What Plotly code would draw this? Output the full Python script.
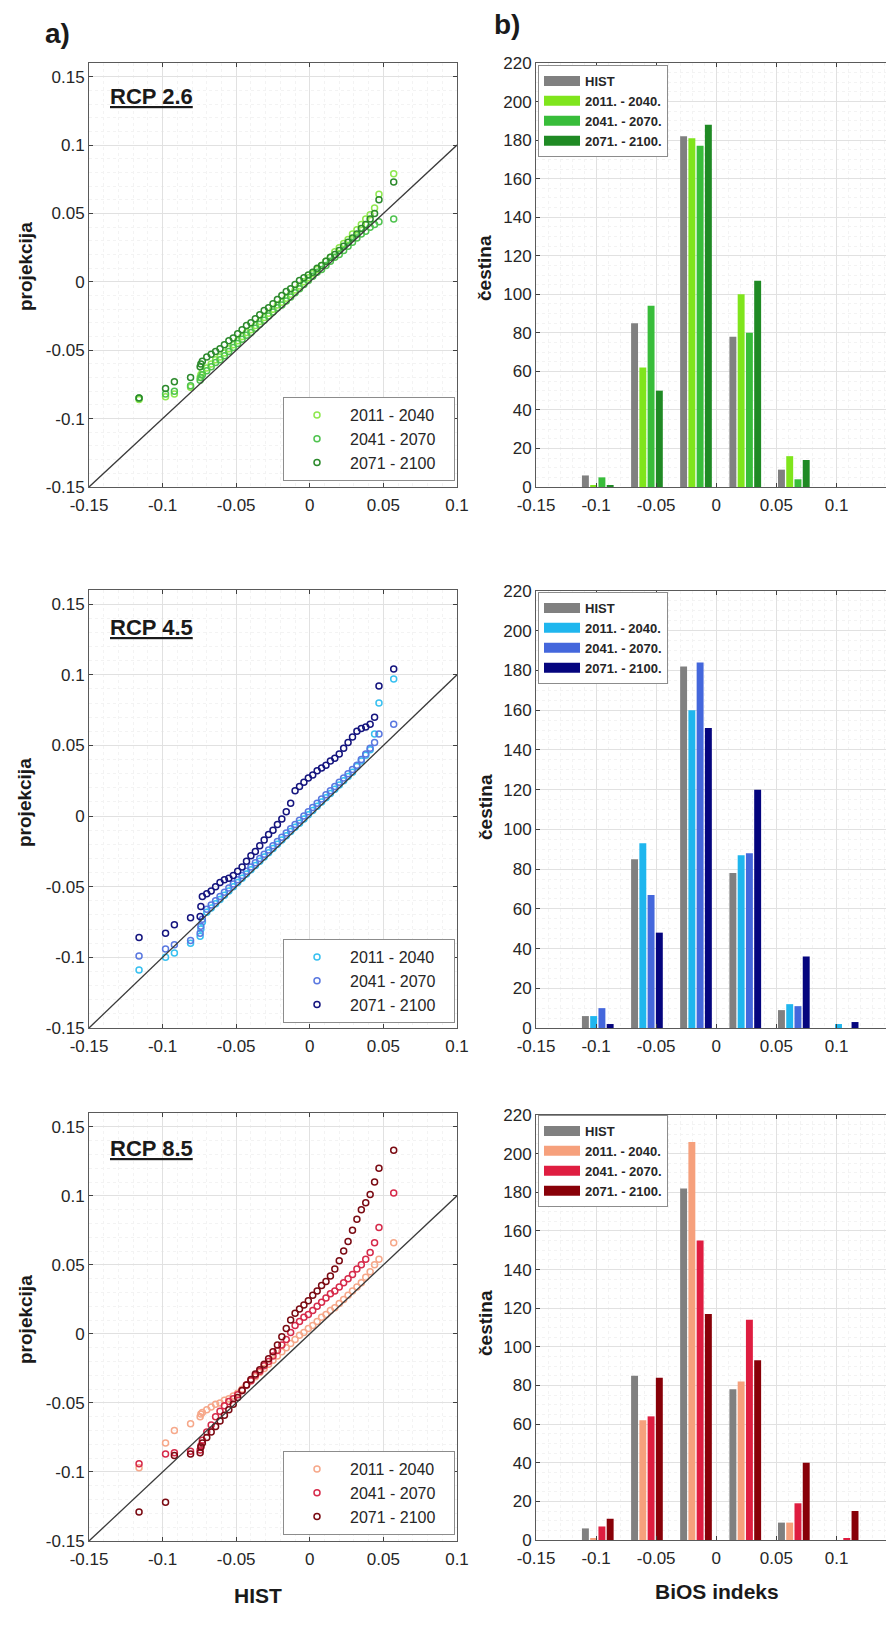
import plotly.graph_objects as go

# ---- QQ plot data: HIST quantiles (x) vs projected quantiles (y) ----
HIST_Q = [-0.116, -0.098, -0.092, -0.081, -0.0745, -0.074, -0.073, -0.070, -0.067, -0.064,
          -0.061, -0.058, -0.055, -0.052, -0.049, -0.046, -0.043, -0.040, -0.037, -0.034,
          -0.031, -0.028, -0.025, -0.022, -0.019, -0.016, -0.013, -0.010, -0.007, -0.004,
          -0.001, 0.002, 0.005, 0.008, 0.011, 0.014, 0.017, 0.020, 0.023, 0.026,
          0.029, 0.032, 0.035, 0.038, 0.041, 0.044, 0.047, 0.057]

RCP26_2011 = [-0.086, -0.084, -0.082, -0.077, -0.070, -0.068, -0.066, -0.063, -0.060, -0.057,
              -0.055, -0.052, -0.049, -0.046, -0.043, -0.040, -0.037, -0.035, -0.032, -0.029,
              -0.026, -0.023, -0.020, -0.017, -0.015, -0.012, -0.009, -0.006, -0.003, 0.000,
              0.003, 0.006, 0.009, 0.012, 0.015, 0.018, 0.022, 0.025, 0.028, 0.031,
              0.035, 0.038, 0.042, 0.046, 0.049, 0.054, 0.064, 0.079]
RCP26_2041 = [-0.085, -0.082, -0.080, -0.076, -0.072, -0.070, -0.068, -0.065, -0.062, -0.059,
              -0.057, -0.054, -0.051, -0.048, -0.045, -0.042, -0.039, -0.037, -0.034, -0.031,
              -0.028, -0.025, -0.022, -0.019, -0.017, -0.014, -0.011, -0.008, -0.005, -0.002,
              0.001, 0.004, 0.007, 0.009, 0.012, 0.015, 0.018, 0.020, 0.023, 0.026,
              0.029, 0.032, 0.035, 0.037, 0.040, 0.042, 0.044, 0.046]
RCP26_2071 = [-0.085, -0.078, -0.073, -0.070, -0.062, -0.060, -0.058, -0.055, -0.053, -0.051,
              -0.049, -0.046, -0.043, -0.041, -0.038, -0.035, -0.032, -0.030, -0.027, -0.024,
              -0.021, -0.019, -0.016, -0.013, -0.010, -0.007, -0.005, -0.002, 0.001, 0.003,
              0.005, 0.007, 0.010, 0.012, 0.015, 0.018, 0.020, 0.023, 0.026, 0.029,
              0.032, 0.035, 0.039, 0.042, 0.046, 0.050, 0.060, 0.073]

RCP45_2011 = [-0.109, -0.100, -0.097, -0.090, -0.085, -0.080, -0.075, -0.068, -0.065, -0.062,
              -0.059, -0.056, -0.053, -0.050, -0.047, -0.044, -0.041, -0.038, -0.035, -0.032,
              -0.029, -0.026, -0.023, -0.020, -0.017, -0.014, -0.011, -0.008, -0.005, -0.002,
              0.001, 0.004, 0.007, 0.010, 0.013, 0.016, 0.019, 0.022, 0.025, 0.028,
              0.031, 0.035, 0.039, 0.043, 0.047, 0.058, 0.080, 0.097]
RCP45_2041 = [-0.099, -0.094, -0.091, -0.088, -0.083, -0.078, -0.073, -0.066, -0.063, -0.060,
              -0.057, -0.054, -0.051, -0.048, -0.045, -0.042, -0.039, -0.036, -0.033, -0.030,
              -0.027, -0.024, -0.021, -0.018, -0.015, -0.012, -0.009, -0.006, -0.003, 0.000,
              0.003, 0.006, 0.009, 0.012, 0.015, 0.018, 0.021, 0.024, 0.027, 0.030,
              0.033, 0.036, 0.040, 0.044, 0.048, 0.052, 0.058, 0.065]
RCP45_2071 = [-0.086, -0.083, -0.077, -0.072, -0.071, -0.064, -0.057, -0.055, -0.053, -0.050,
              -0.047, -0.045, -0.044, -0.042, -0.039, -0.036, -0.032, -0.028, -0.025, -0.021,
              -0.017, -0.013, -0.010, -0.006, -0.002, 0.003, 0.009, 0.018, 0.021, 0.024,
              0.027, 0.029, 0.032, 0.034, 0.036, 0.039, 0.041, 0.044, 0.048, 0.052,
              0.056, 0.060, 0.062, 0.063, 0.065, 0.070, 0.092, 0.104]

RCP85_2011 = [-0.097, -0.079, -0.070, -0.065, -0.060, -0.058, -0.057, -0.055, -0.053, -0.051,
              -0.050, -0.048, -0.047, -0.045, -0.043, -0.040, -0.037, -0.034, -0.031, -0.028,
              -0.025, -0.022, -0.019, -0.016, -0.013, -0.010, -0.007, -0.004, -0.001, 0.001,
              0.004, 0.006, 0.009, 0.012, 0.014, 0.017, 0.019, 0.022, 0.025, 0.028,
              0.031, 0.034, 0.037, 0.041, 0.045, 0.050, 0.054, 0.066]
RCP85_2041 = [-0.094, -0.087, -0.086, -0.085, -0.084, -0.081, -0.077, -0.071, -0.066, -0.060,
              -0.056, -0.052, -0.049, -0.047, -0.044, -0.041, -0.037, -0.034, -0.030, -0.027,
              -0.023, -0.020, -0.016, -0.012, -0.008, -0.004, 0.001, 0.006, 0.009, 0.012,
              0.014, 0.017, 0.020, 0.023, 0.026, 0.029, 0.031, 0.034, 0.037, 0.040,
              0.043, 0.047, 0.050, 0.054, 0.059, 0.066, 0.077, 0.102]
RCP85_2071 = [-0.129, -0.122, -0.088, -0.087, -0.086, -0.082, -0.079, -0.075, -0.071, -0.067,
              -0.063, -0.059, -0.055, -0.051, -0.046, -0.041, -0.037, -0.033, -0.029, -0.026,
              -0.022, -0.018, -0.013, -0.008, -0.002, 0.004, 0.010, 0.015, 0.018, 0.021,
              0.024, 0.028, 0.031, 0.035, 0.038, 0.042, 0.047, 0.053, 0.060, 0.067,
              0.075, 0.083, 0.090, 0.095, 0.101, 0.110, 0.120, 0.133]

REF_LINE = [-0.15, 0.1]

# ---- histogram data (BiOS index bins) ----
BIN_CENTERS = [-0.0986, -0.0577, -0.0169, 0.0241, 0.0645, 0.1051]
HIST_COUNTS = [6, 85, 182, 78, 9, 0]
RCP26_COUNTS = [[1, 62, 181, 100, 16, 0],
                [5, 94, 177, 80, 4, 0],
                [1, 50, 188, 107, 14, 0]]
RCP45_COUNTS = [[6, 93, 160, 87, 12, 2],
                [10, 67, 184, 88, 11, 0],
                [2, 48, 151, 120, 36, 3]]
RCP85_COUNTS = [[1, 62, 206, 82, 9, 0],
                [7, 64, 155, 114, 19, 1],
                [11, 84, 117, 93, 40, 15]]

QQ_NAMES = ["2011 - 2040", "2041 - 2070", "2071 - 2100"]
BAR_NAMES = ["HIST", "2011. - 2040.", "2041. - 2070.", "2071. - 2100."]
SCENARIOS = ["RCP 2.6", "RCP 4.5", "RCP 8.5"]

QQ_X_TICKS = [-0.15, -0.1, -0.05, 0, 0.05, 0.1]
QQ_Y_TICKS = [-0.15, -0.1, -0.05, 0, 0.05, 0.1, 0.15]
QQ_X_LABELS = ["-0.15", "-0.1", "-0.05", "0", "0.05", "0.1"]
QQ_Y_LABELS = ["-0.15", "-0.1", "-0.05", "0", "0.05", "0.1", "0.15"]
BAR_Y_TICKS = [0, 20, 40, 60, 80, 100, 120, 140, 160, 180, 200, 220]

QQ_DATA = [[RCP26_2011, RCP26_2041, RCP26_2071],
           [RCP45_2011, RCP45_2041, RCP45_2071],
           [RCP85_2011, RCP85_2041, RCP85_2071]]
BAR_DATA = [RCP26_COUNTS, RCP45_COUNTS, RCP85_COUNTS]

HIST_COLOR = "#808080"
BAR_COLORS = [["#7fe51c", "#38bd3a", "#1f8a24"],
              ["#1fb6ee", "#4467dc", "#05057e"],
              ["#f6a07c", "#df1d40", "#880008"]]
QQ_COLORS = [["#8ee84e", "#4fc34f", "#2c8a2c"],
             ["#38c0f0", "#5a78e0", "#14147e"],
             ["#f6a88a", "#d62a4a", "#7a0a12"]]

FONT = "Liberation Sans, Arial, sans-serif"
TXT = "#262626"

# the page body adds an 8 px margin: the figure is kept a bit smaller so the
# page does not scroll, and screen positions measured on the reference are shifted
OFF = 8
W, H = 885, 1600


def px(X):
    return (X - OFF) / W


def py(Y):
    return 1 - (Y - OFF) / H


LEFT_DOM = [px(89), px(457)]
RIGHT_DOM = [px(536), 1.0]
ROWS_LEFT = [[py(487), py(63)], [py(1028), py(590)], [py(1541), py(1113)]]
ROWS_RIGHT = [[py(487), py(63)], [py(1028), py(591)], [py(1540), py(1115)]]
QQ_LEG_BOTTOM = [481, 1023, 1535]
BAR_LEG_TOP = [65, 592, 1115]
RCP_LABEL_Y = [96, 627, 1148]
YLABEL_Y = [267, 803, 1320]
CEST_Y = [268, 807, 1323]

fig = go.Figure()
layout = {}


def axis_style(domain, rng, tickvals, ticktext, anchor, minor_dtick, standoff=0):
    return dict(
        domain=domain, range=rng, anchor=anchor, automargin=False,
        tickvals=tickvals, ticktext=ticktext,
        tickfont=dict(family=FONT, size=17, color=TXT), ticklabelstandoff=standoff,
        ticks="inside", ticklen=4, tickcolor="#404040",
        showline=True, linecolor="#5a5a5a", linewidth=1, mirror="ticks",
        showgrid=True, gridcolor="#e1e1e1", gridwidth=1,
        zeroline=False,
        minor=dict(dtick=minor_dtick, showgrid=True, gridcolor="#f3f3f3",
                   griddash="dot", ticks=""),
    )


for r in range(3):
    li, ri = 2 * r + 1, 2 * r + 2
    lx = "x" if li == 1 else f"x{li}"
    ly = "y" if li == 1 else f"y{li}"
    rx, ry = f"x{ri}", f"y{ri}"
    qq_leg = "legend" if li == 1 else f"legend{li}"
    bar_leg = f"legend{ri}"

    # QQ scatter
    for k in range(3):
        fig.add_trace(go.Scatter(
            x=HIST_Q, y=QQ_DATA[r][k], mode="markers",
            name=QQ_NAMES[k] + "\u00a0\u00a0\u00a0",
            marker=dict(symbol="circle-open", size=6, color=QQ_COLORS[r][k],
                        line=dict(width=1.5, color=QQ_COLORS[r][k])),
            xaxis=lx, yaxis=ly, legend=qq_leg,
        ))
    fig.add_trace(go.Scatter(
        x=REF_LINE, y=REF_LINE, mode="lines", line=dict(color="#3a3a3a", width=1.3),
        showlegend=False, xaxis=lx, yaxis=ly, hoverinfo="skip",
    ))

    # histogram bars
    fig.add_trace(go.Bar(x=BIN_CENTERS, y=HIST_COUNTS, marker_color=HIST_COLOR,
                         marker_line_width=0, showlegend=False, xaxis=rx, yaxis=ry))
    for k in range(3):
        fig.add_trace(go.Bar(x=BIN_CENTERS, y=BAR_DATA[r][k], marker_color=BAR_COLORS[r][k],
                             marker_line_width=0, showlegend=False, xaxis=rx, yaxis=ry))
    # wide legend swatches
    for k, nm in enumerate(BAR_NAMES):
        col = HIST_COLOR if k == 0 else BAR_COLORS[r][k - 1]
        fig.add_trace(go.Scatter(x=[None], y=[None], mode="lines", name=nm,
                                 line=dict(color=col, width=10),
                                 xaxis=rx, yaxis=ry, legend=bar_leg))

    lkey = "xaxis" if li == 1 else f"xaxis{li}"
    lykey = "yaxis" if li == 1 else f"yaxis{li}"
    layout[lkey] = axis_style(LEFT_DOM, [-0.15, 0.1], QQ_X_TICKS, QQ_X_LABELS, ly, 0.01, 3)
    layout[lykey] = axis_style(ROWS_LEFT[r], [-0.15, 0.16], QQ_Y_TICKS, QQ_Y_LABELS, lx, 0.01)
    layout[f"xaxis{ri}"] = axis_style(RIGHT_DOM, [-0.15, 0.147], QQ_X_TICKS, QQ_X_LABELS,
                                      ry, 0.01, 3)
    layout[f"yaxis{ri}"] = axis_style(ROWS_RIGHT[r], [0, 220], BAR_Y_TICKS,
                                      [str(v) for v in BAR_Y_TICKS], rx, 5)

    layout[qq_leg] = dict(
        x=px(455), y=py(QQ_LEG_BOTTOM[r]), xanchor="right", yanchor="bottom",
        bgcolor="white", bordercolor="#8c8c8c", borderwidth=1,
        font=dict(family=FONT, size=16, color=TXT), itemwidth=56, tracegroupgap=0,
    )
    layout[bar_leg] = dict(
        x=px(538), y=py(BAR_LEG_TOP[r]), xanchor="left", yanchor="top",
        bgcolor="white", bordercolor="#8c8c8c", borderwidth=1,
        font=dict(family=FONT, size=13, color=TXT, weight="bold"), itemwidth=36,
        tracegroupgap=0,
    )


def label(text, X, Y, size, angle=0, anchor="center"):
    return dict(text=text, x=px(X), y=py(Y), xref="paper", yref="paper",
                xanchor=anchor, yanchor="middle", textangle=angle, showarrow=False,
                font=dict(family=FONT, size=size, color="#1a1a1a"))


annotations = []
for r in range(3):
    annotations.append(label(f"<b><u>{SCENARIOS[r]}</u></b>", 108, RCP_LABEL_Y[r], 22,
                             anchor="left"))
    annotations.append(label("<b>projekcija</b>", 25, YLABEL_Y[r], 19, angle=-90))
    annotations.append(label("<b>čestina</b>", 485, CEST_Y[r], 19, angle=-90))

annotations += [
    label("<b>HIST</b>", 258, 1595, 21),
    label("<b>BiOS indeks</b>", 717, 1591, 21),
    label("<b>a)</b>", 57, 33, 28),
    label("<b>b)</b>", 507, 25, 28),
]

fig.update_layout(
    width=W, height=H,
    margin=dict(l=0, r=0, t=0, b=0, autoexpand=False),
    paper_bgcolor="white", plot_bgcolor="white",
    barmode="group", bargap=0.32, bargroupgap=0.16,
    font=dict(family=FONT, color=TXT),
    annotations=annotations,
    **layout,
)

fig.write_html("out.html")
